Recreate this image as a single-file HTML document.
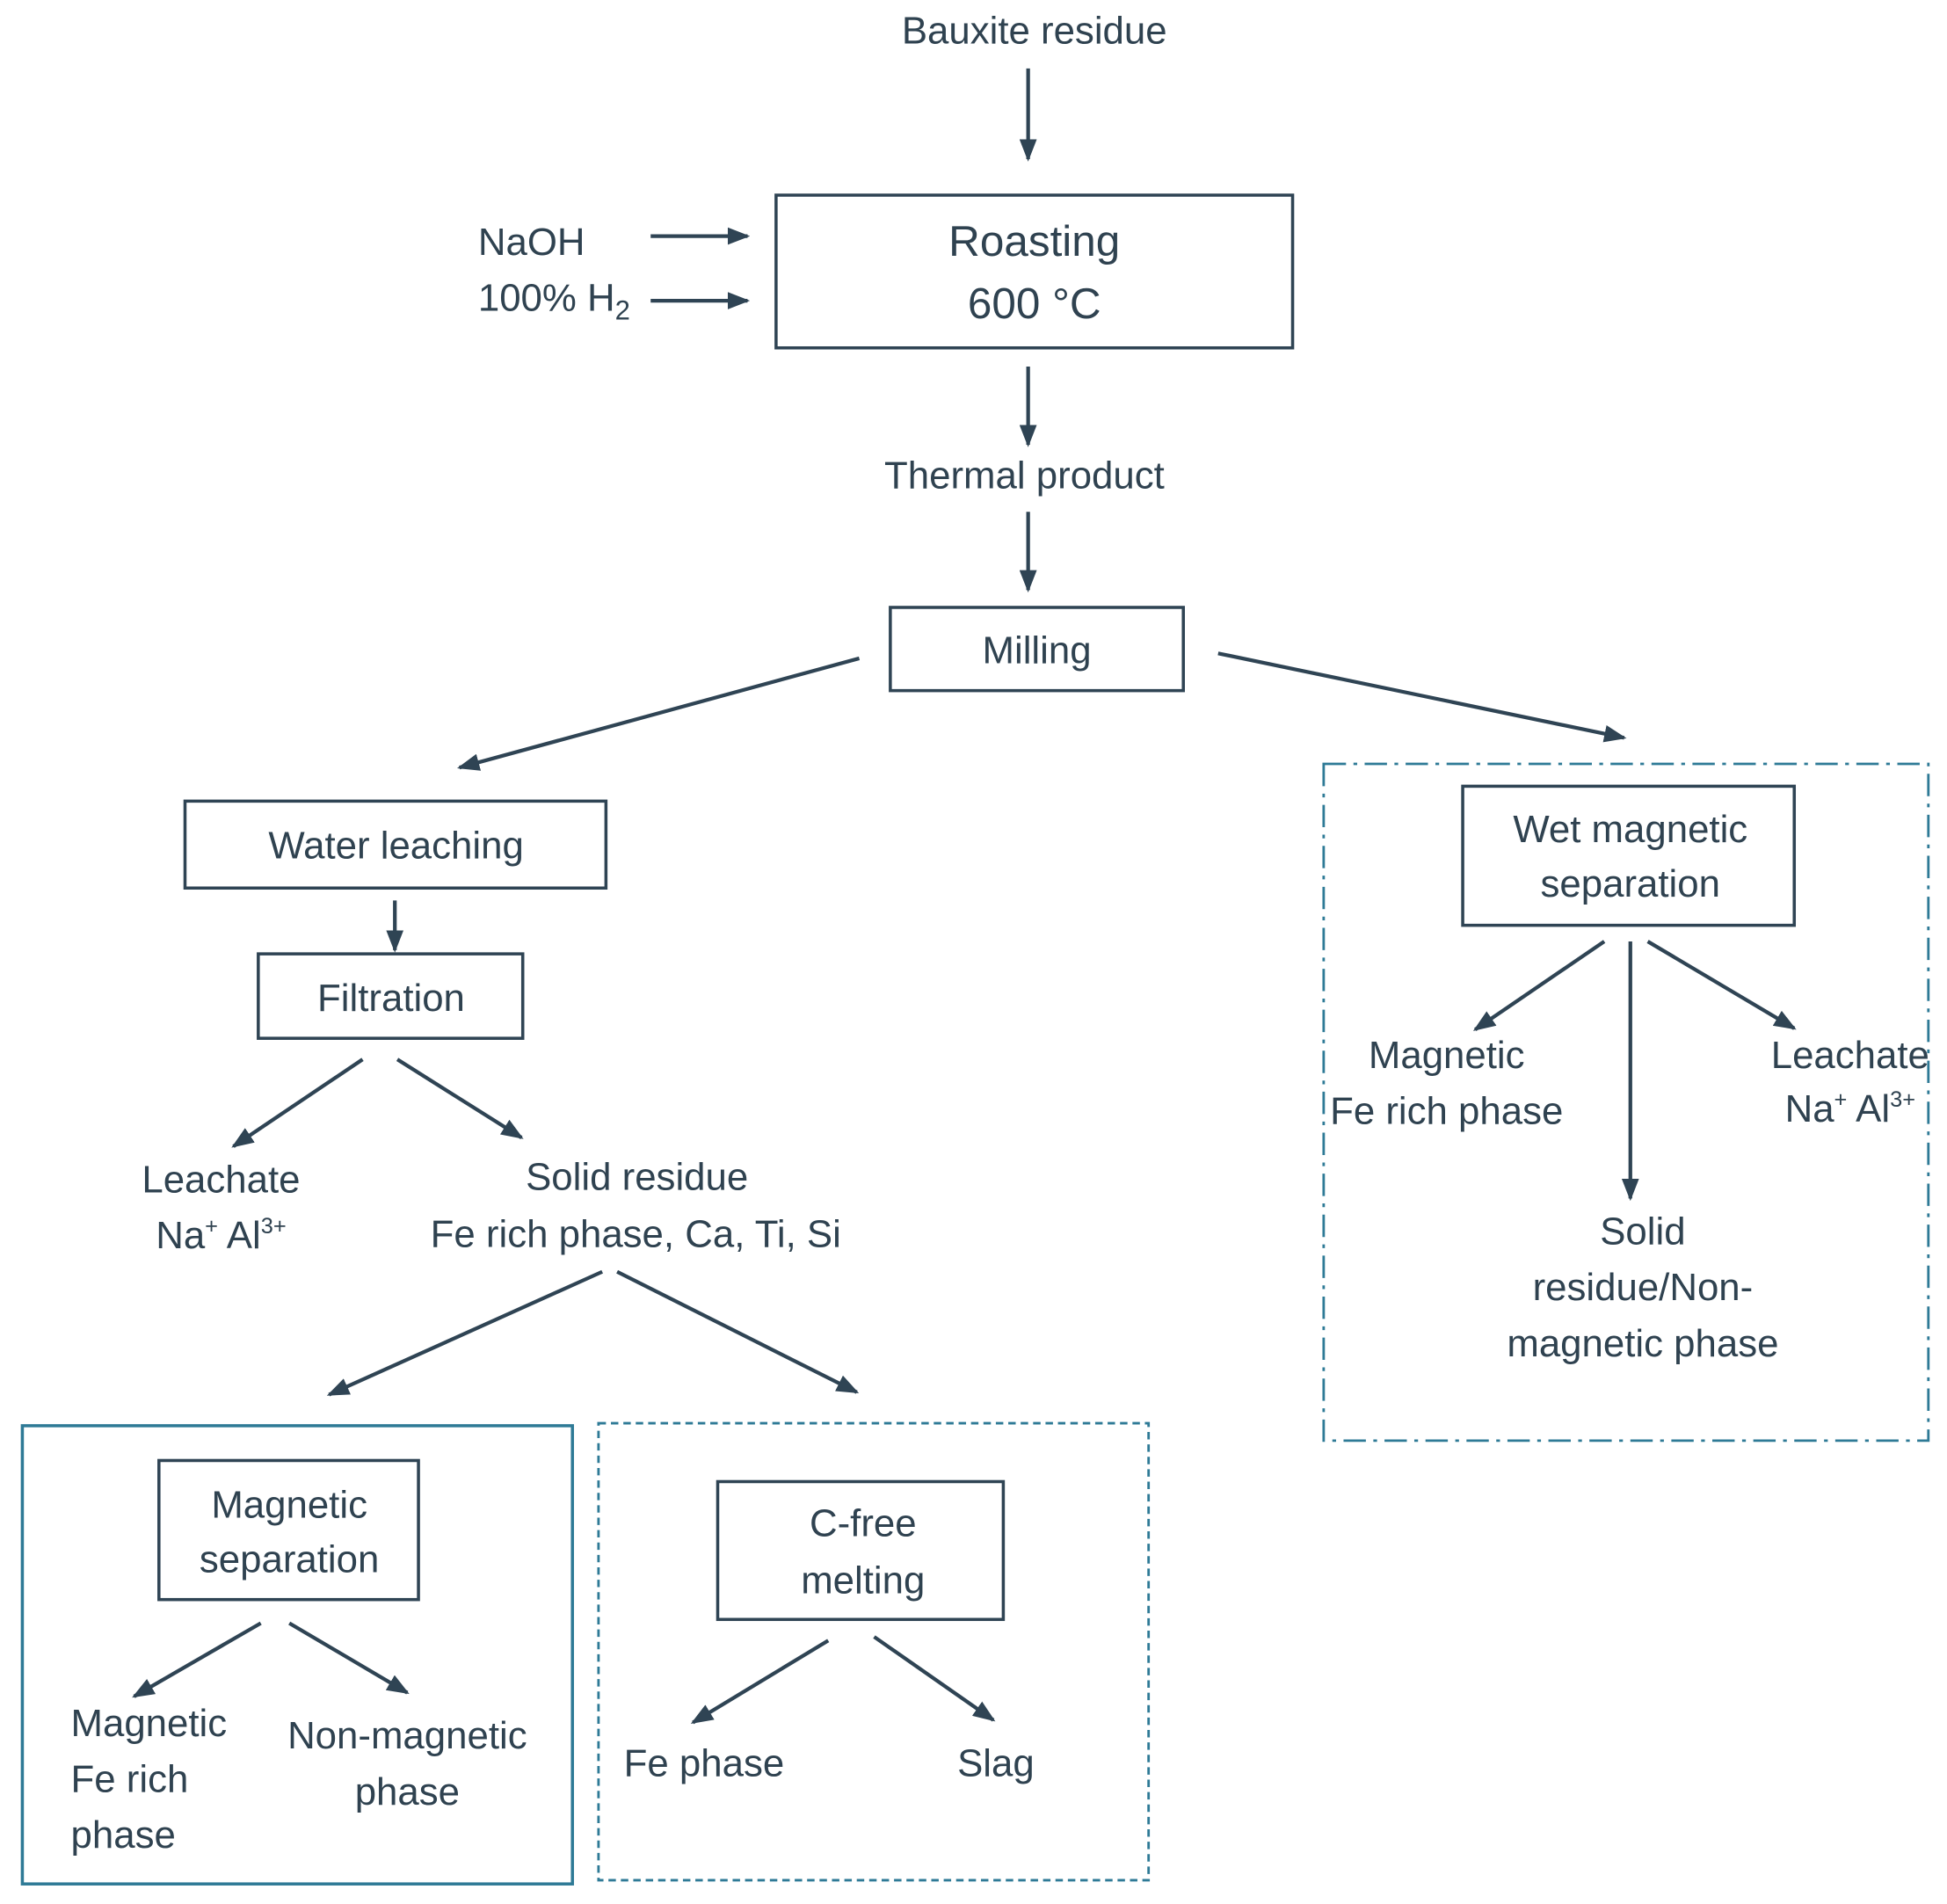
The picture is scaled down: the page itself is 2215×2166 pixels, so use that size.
<!DOCTYPE html>
<html><head><meta charset="utf-8"><style>
html,body{margin:0;padding:0;background:#fff;}
svg{display:block;}
text{font-family:"Liberation Sans",sans-serif;fill:#2f4250;font-size:31px;text-anchor:middle;}
.b{fill:none;stroke:#2f4454;stroke-width:2.5;}
.a{stroke:#2f4454;stroke-width:3;fill:none;marker-end:url(#ah);}
</style></head><body>
<svg width="2215" height="2166" viewBox="0 0 1568 1533" xmlns="http://www.w3.org/2000/svg">
<defs><marker id="ah" viewBox="0 0 18 14" refX="16" refY="7" markerWidth="18" markerHeight="14" orient="auto" markerUnits="userSpaceOnUse"><path d="M0,0 L18,7 L0,14 z" fill="#2f4454"/></marker></defs>

<text x="833" y="35">Bauxite residue</text>
<line class="a" x1="828" y1="55" x2="828" y2="128"/>
<rect class="b" x="625" y="157" width="416" height="123"/>
<text x="833" y="206" style="font-size:35px">Roasting</text>
<text x="833" y="256" style="font-size:35px">600 °C</text>
<text x="385" y="205" style="text-anchor:start">NaOH</text>
<text x="385" y="250" style="text-anchor:start">100% H<tspan dy="7" font-size="22">2</tspan></text>
<line class="a" x1="524" y1="190" x2="602" y2="190"/>
<line class="a" x1="524" y1="242" x2="602" y2="242"/>
<line class="a" x1="828" y1="295" x2="828" y2="358"/>
<text x="825" y="393">Thermal product</text>
<line class="a" x1="828" y1="412" x2="828" y2="475"/>
<rect class="b" x="717" y="489" width="236" height="67"/>
<text x="835" y="534">Milling</text>
<line class="a" x1="692" y1="530" x2="370" y2="618"/>
<line class="a" x1="981" y1="526" x2="1308" y2="594"/>

<rect class="b" x="149" y="645" width="339" height="70"/>
<text x="319" y="691">Water leaching</text>
<line class="a" x1="318" y1="725" x2="318" y2="765"/>
<rect class="b" x="208" y="768" width="213" height="68"/>
<text x="315" y="814">Filtration</text>
<line class="a" x1="292" y1="853" x2="188" y2="923"/>
<line class="a" x1="320" y1="853" x2="420" y2="916"/>
<text x="178" y="960">Leachate</text>
<text x="178" y="1005">Na<tspan dy="-12" font-size="18">+</tspan><tspan dy="12"> Al</tspan><tspan dy="-12" font-size="18">3+</tspan></text>
<text x="513" y="958">Solid residue</text>
<text x="512" y="1004">Fe rich phase, Ca, Ti, Si</text>
<line class="a" x1="485" y1="1024" x2="265" y2="1123"/>
<line class="a" x1="497" y1="1024" x2="690" y2="1121"/>

<rect x="18" y="1148" width="443" height="369" fill="none" stroke="#2e7a96" stroke-width="2.5"/>
<rect class="b" x="128" y="1176" width="209" height="112"/>
<text x="233" y="1222">Magnetic</text>
<text x="233" y="1266">separation</text>
<line class="a" x1="210" y1="1307" x2="108" y2="1366"/>
<line class="a" x1="233" y1="1307" x2="328" y2="1363"/>
<text x="57" y="1398" style="text-anchor:start">Magnetic</text>
<text x="57" y="1443" style="text-anchor:start">Fe rich</text>
<text x="57" y="1488" style="text-anchor:start">phase</text>
<text x="328" y="1408">Non-magnetic</text>
<text x="328" y="1453">phase</text>

<rect x="482" y="1146" width="443" height="368" fill="none" stroke="#2e7a96" stroke-width="2" stroke-dasharray="6,4"/>
<rect class="b" x="578" y="1193" width="230" height="111"/>
<text x="695" y="1237">C-free</text>
<text x="695" y="1283">melting</text>
<line class="a" x1="667" y1="1321" x2="558" y2="1387"/>
<line class="a" x1="704" y1="1318" x2="800" y2="1385"/>
<text x="567" y="1430">Fe phase</text>
<text x="802" y="1430">Slag</text>

<rect x="1066" y="615" width="487" height="545" fill="none" stroke="#2e7a96" stroke-width="2" stroke-dasharray="18,6,3,6"/>
<rect class="b" x="1178" y="633" width="267" height="112"/>
<text x="1313" y="678">Wet magnetic</text>
<text x="1313" y="722">separation</text>
<line class="a" x1="1292" y1="758" x2="1188" y2="829"/>
<line class="a" x1="1313" y1="758" x2="1313" y2="965"/>
<line class="a" x1="1327" y1="758" x2="1445" y2="828"/>
<text x="1165" y="860">Magnetic</text>
<text x="1165" y="905">Fe rich phase</text>
<text x="1490" y="860">Leachate</text>
<text x="1490" y="903">Na<tspan dy="-12" font-size="18">+</tspan><tspan dy="12"> Al</tspan><tspan dy="-12" font-size="18">3+</tspan></text>
<text x="1323" y="1002">Solid</text>
<text x="1323" y="1047">residue/Non-</text>
<text x="1323" y="1092">magnetic phase</text>
</svg>
</body></html>
